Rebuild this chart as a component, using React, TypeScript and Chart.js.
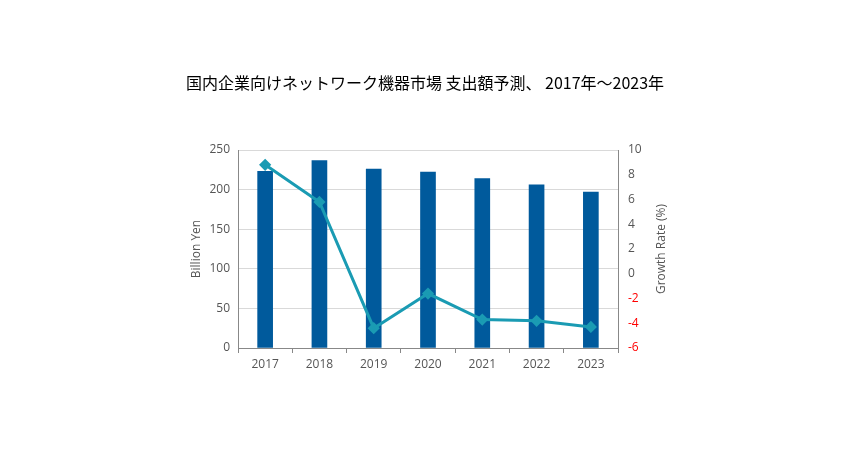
import React, { useEffect, useRef } from "react";
import { Chart, registerables } from "chart.js";

Chart.register(...registerables);

const TITLE = "国内企業向けネットワーク機器市場 支出額予測、 2017年～2023年";
const categories = ["2017", "2018", "2019", "2020", "2021", "2022", "2023"];
const spending = [223, 236.5, 226, 222, 214, 206, 197];
const growth = [8.8, 5.8, -4.4, -1.6, -3.7, -3.8, -4.3];
const leftTicks = [0, 50, 100, 150, 200, 250];
const rightTicks = [-6, -4, -2, 0, 2, 4, 6, 8, 10];
const LEFT_TITLE = "Billion Yen";
const RIGHT_TITLE = "Growth Rate (%)";

const FONT = "'Open Sans', 'Noto Sans', sans-serif";

const rightTitlePlugin = {
  id: "rightTitle",
  afterDraw(chart: any) {
    const s = chart.scales.y1;
    const ctx = chart.ctx;
    ctx.save();
    ctx.font = `12px ${FONT}`;
    ctx.fillStyle = "#555";
    ctx.textAlign = "center";
    ctx.textBaseline = "middle";
    ctx.translate(s.right - 188, (s.top + s.bottom) / 2);
    ctx.rotate(-Math.PI / 2);
    ctx.fillText(RIGHT_TITLE, 0, 0);
    ctx.restore();
  },
};

export default function App() {
  const ref = useRef<HTMLCanvasElement>(null);
  useEffect(() => {
    document.body.style.margin = "0";
    const chart = new Chart(ref.current!, {
      data: {
        labels: categories,
        datasets: [
          {
            type: "line",
            label: "Growth Rate",
            data: growth,
            yAxisID: "y1",
            borderColor: "#1a9bb3",
            backgroundColor: "#1a9bb3",
            borderWidth: 3,
            pointStyle: "rectRot",
            pointRadius: 4,
            pointHoverRadius: 4,
            tension: 0,
            order: 0,
          },
          {
            type: "bar",
            label: "Billion Yen",
            data: spending,
            yAxisID: "y",
            backgroundColor: "#005a9c",
            barThickness: 15,
            order: 1,
          },
        ],
      },
      plugins: [rightTitlePlugin],
      options: {
        animation: false,
        responsive: false,
        layout: { padding: { left: 0, right: 0, top: 0, bottom: 0 } },
        plugins: {
          legend: { display: false },
          tooltip: { enabled: false },
          title: {
            display: true,
            text: TITLE,
            color: "#000",
            font: { family: "'Noto Sans CJK JP', sans-serif", size: 16, weight: "normal" },
            padding: { top: 73, bottom: 57.8 },
          },
        },
        scales: {
          x: {
            offset: true,
            grid: {
              display: true,
              offset: true,
              drawOnChartArea: false,
              drawTicks: true,
              tickLength: 5,
              color: "#888",
            },
            border: { color: "#888", width: 1 },
            ticks: { color: "#555", font: { family: FONT, size: 12 }, padding: 4 },
            afterFit: (s: any) => {
              s.height = 122;
            },
          },
          y: {
            position: "left",
            min: 0,
            max: 250,
            afterBuildTicks: (s: any) => {
              s.ticks = leftTicks.map((v) => ({ value: v }));
            },
            grid: { color: "#d9d9d9", drawTicks: false },
            border: { color: "#888", width: 1 },
            ticks: { color: "#555", font: { family: FONT, size: 12 }, padding: 8 },
            title: {
              display: true,
              text: LEFT_TITLE,
              color: "#555",
              font: { family: FONT, size: 12 },
              padding: { top: 189, bottom: 0 },
            },
            afterFit: (s: any) => {
              s.width = 238;
            },
          },
          y1: {
            position: "right",
            min: -6,
            max: 10,
            afterBuildTicks: (s: any) => {
              s.ticks = rightTicks.map((v) => ({ value: v }));
            },
            grid: { drawOnChartArea: false, drawTicks: false },
            border: { color: "#888", width: 1 },
            ticks: {
              color: (ctx: any) => (ctx.tick && ctx.tick.value < 0 ? "#ff0000" : "#555"),
              font: { family: FONT, size: 12 },
              padding: 10,
            },
            afterFit: (s: any) => {
              s.width = 232;
            },
          },
        },
      },
    } as any);
    return () => chart.destroy();
  }, []);
  return (
    <div style={{ width: 850, height: 470, background: "#fff" }}>
      <canvas ref={ref} width={850} height={470} style={{ display: "block" }} />
    </div>
  );
}
